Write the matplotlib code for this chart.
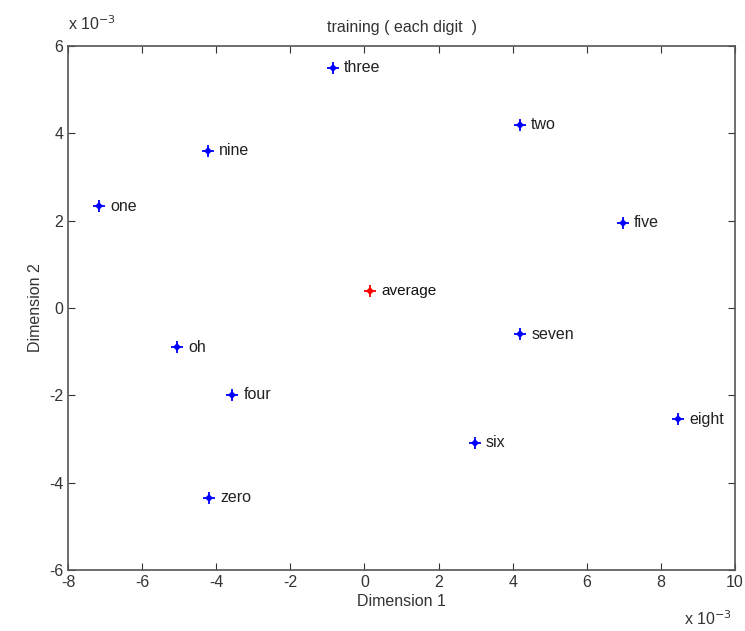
import numpy as np
import matplotlib.pyplot as plt

plt.rcParams['font.family'] = ['Liberation Sans', 'DejaVu Sans']
plt.rcParams['axes.unicode_minus'] = False

# positions in units of 1e-3
words = ['three', 'two', 'nine', 'one', 'five', 'seven', 'oh', 'four', 'eight', 'six', 'zero']
dim1 = [-0.85, 4.2, -4.22, -7.16, 6.98, 4.2, -5.06, -3.57, 8.46, 2.98, -4.2]
dim2 = [5.5, 4.2, 3.6, 2.33, 1.95, -0.6, -0.9, -1.99, -2.55, -3.09, -4.35]
avg_x, avg_y = 0.15, 0.38

fig = plt.figure(figsize=(7.45, 6.31), dpi=100)
ax = fig.add_axes([0.0913, 0.0967, 0.8953, 0.8303])

def star(x, y, color):
    ax.plot(x, y, '+', color=color, ms=9, mew=1.3, ls='none')
    ax.plot(x, y, 'D', color=color, ms=4, mew=0, ls='none')

star(dim1, dim2, '#0000ff')
star([avg_x], [avg_y], '#ff0000')

for w, x, y in zip(words, dim1, dim2):
    ax.text(x + 0.3, y, w, fontsize=11.5, va='center', ha='left', color='#222222')
ax.text(avg_x + 0.3, avg_y, 'average', fontsize=11, va='center', ha='left', color='#111111')

ax.set_xlim(-8, 10)
ax.set_ylim(-6, 6)
ax.set_xticks(np.arange(-8, 11, 2))
ax.set_yticks(np.arange(-6, 7, 2))
ax.tick_params(direction='in', top=True, right=True, length=5, labelsize=11.5, colors='#333333')
for s in ax.spines.values():
    s.set_color('#555555')
    s.set_linewidth(1.2)

ax.set_xlabel('Dimension 1', fontsize=11.5, color='#333333', labelpad=3)
ax.set_ylabel('Dimension 2', fontsize=11.5, color='#333333')
ax.set_title('training ( each digit  )', fontsize=11.5, color='#333333', pad=10)

ax.text(0.0, 1.025, r'x 10$^{-3}$', transform=ax.transAxes, fontsize=11.5, color='#333333',
        ha='left', va='bottom')
ax.text(0.995, -0.105, r'x 10$^{-3}$', transform=ax.transAxes, fontsize=11.5, color='#333333',
        ha='right', va='baseline')

fig.savefig('out.png', dpi=100)
